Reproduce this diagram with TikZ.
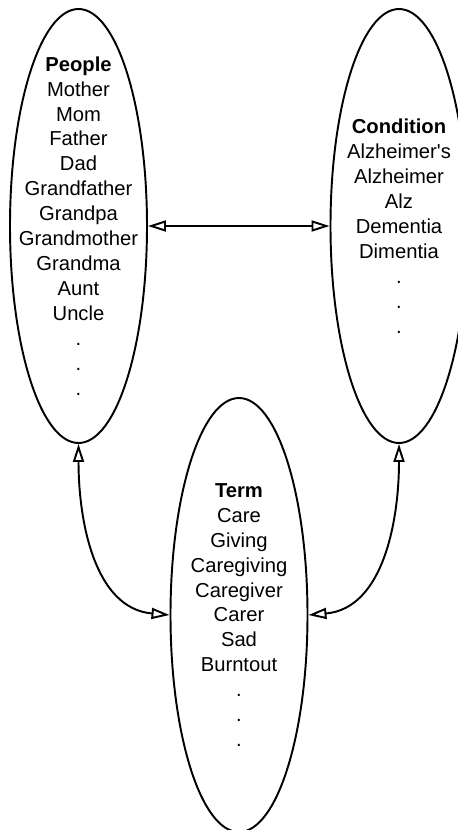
\documentclass[tikz,border=0pt]{standalone}
\usepackage{fontspec}
\setmainfont{Liberation Sans}
\usepackage{tikz}
\usetikzlibrary{shapes.geometric, arrows.meta, positioning}
\tikzset{
  group/.style={ellipse, draw=black, line width=1.1pt,
    minimum width=2.74cm, minimum height=8.68cm, inner sep=0pt},
  grouptxt/.style={align=center, inner sep=0pt,
    font=\fontsize{11.5}{14.2}\selectfont},
  linkarrow/.style={{Triangle[open, length=0.36cm, width=0.22cm]}-{Triangle[open, length=0.36cm, width=0.22cm]},
    line width=1.1pt, color=black}
}

\begin{document}
\begin{tikzpicture}
  \useasboundingbox (0,0) rectangle (9.16,-16.6);

  % People
  \node[group] (people) at (1.57,-4.52) {};
  \node[grouptxt] (people_txt) at (people.center) {\textbf{People}\\Mother\\Mom\\Father\\Dad\\Grandfather\\Grandpa\\Grandmother\\Grandma\\Aunt\\Uncle\\.\\.\\.};

  % Condition
  \node[group] (condition) at (7.98,-4.52) {};
  \node[grouptxt] (condition_txt) at (condition.center) {\textbf{Condition}\\Alzheimer\textquotesingle s\\Alzheimer\\Alz\\Dementia\\Dimentia\\.\\.\\.};

  % Term
  \node[group] (term) at (4.78,-12.30) {};
  \node[grouptxt] (term_txt) at (term.center) {\textbf{Term}\\Care\\Giving\\Caregiving\\Caregiver\\Carer\\Sad\\Burntout\\.\\.\\.};

  % Links
  \draw[linkarrow] (people.east) -- (condition.west);
  \draw[linkarrow] (people.south) to[out=-90, in=175] (term.west);
  \draw[linkarrow] (condition.south) to[out=-90, in=5] (term.east);
\end{tikzpicture}
\end{document}
